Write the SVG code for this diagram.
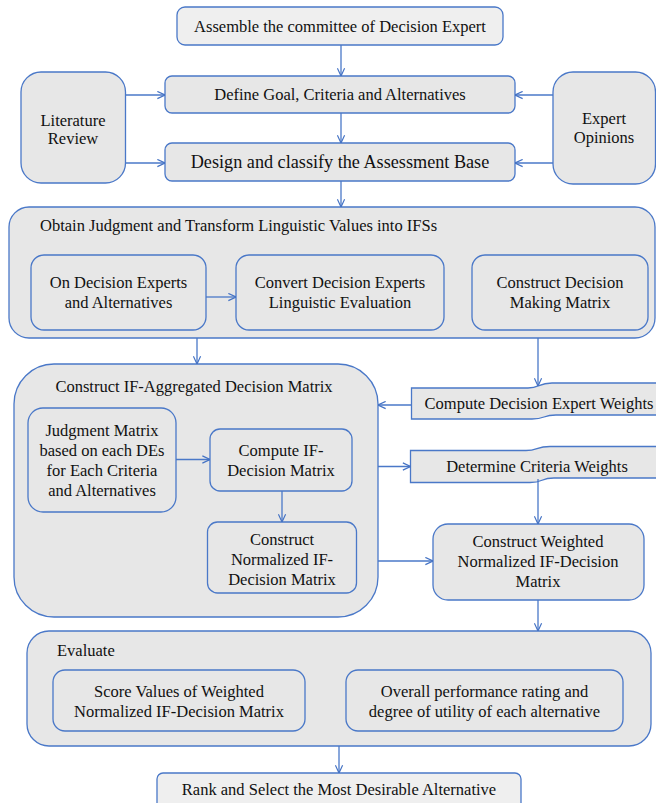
<svg xmlns="http://www.w3.org/2000/svg" width="656" height="803" viewBox="0 0 656 803">
<defs>
<marker id="ah" viewBox="0 0 10 10" refX="9.5" refY="5" markerWidth="9" markerHeight="9" markerUnits="userSpaceOnUse" orient="auto">
<path d="M1,1 L9.5,5 L1,9" fill="none" stroke="#4472c4" stroke-width="1.3"/>
</marker>
</defs>
<style>
.b{fill:#e7e7e7;stroke:#4a78c8;stroke-width:1.3}
.l{fill:#efefef;stroke:#4a78c8;stroke-width:1.3}
.a{stroke:#4a78c8;stroke-width:1.3;fill:none;marker-end:url(#ah)}
text{font-size:16.5px;fill:#111}
.m{text-anchor:middle}
.big{font-size:18.2px}
</style>
<rect width="656" height="803" fill="#ffffff"/>
<g font-family="'Liberation Serif', 'DejaVu Serif', serif">
<g id="assemble"><rect class="l" x="177" y="7" width="326" height="38" rx="8"/><text class="m" x="340" y="32">Assemble the committee of Decision Expert</text></g>
<g id="literature"><rect class="b" x="21" y="72" width="104.5" height="111" rx="20"/><text class="m" x="73" y="126">Literature</text><text class="m" x="73" y="144">Review</text></g>
<g id="define"><rect class="b" x="165" y="76" width="350" height="37" rx="7"/><text class="m" x="340" y="100">Define Goal, Criteria and Alternatives</text></g>
<g id="design"><rect class="b" x="165" y="143" width="350" height="38" rx="7"/><text class="m big" x="340" y="168">Design and classify the Assessment Base</text></g>
<g id="expert"><rect class="b" x="553" y="72" width="102.5" height="112" rx="20"/><text class="m" x="604" y="124">Expert</text><text class="m" x="604" y="143">Opinions</text></g>

<g id="obtain"><rect class="b" x="9" y="207" width="646" height="131" rx="20"/><text x="40" y="231">Obtain Judgment and Transform Linguistic Values into IFSs</text></g>
<g id="onde"><rect class="b" x="31" y="255" width="175" height="75" rx="13"/><text class="m" x="118.5" y="288">On Decision Experts</text><text class="m" x="118.5" y="308">and Alternatives</text></g>
<g id="convert"><rect class="b" x="236" y="255" width="208" height="75" rx="13"/><text class="m" x="340" y="288">Convert Decision Experts</text><text class="m" x="340" y="308">Linguistic Evaluation</text></g>
<g id="cdmm"><rect class="b" x="472" y="255" width="176" height="75" rx="13"/><text class="m" x="560" y="288">Construct Decision</text><text class="m" x="560" y="308">Making Matrix</text></g>

<g id="aggregated"><rect class="b" x="14" y="364" width="364" height="253" rx="40"/><text class="m" x="194" y="392">Construct IF-Aggregated Decision Matrix</text></g>
<g id="judgment"><rect class="b" x="28" y="408" width="148" height="104" rx="15"/><text class="m" x="102" y="436">Judgment Matrix</text><text class="m" x="102" y="456">based on each DEs</text><text class="m" x="102" y="476">for Each Criteria</text><text class="m" x="102" y="496">and Alternatives</text></g>
<g id="computeif"><rect class="b" x="210" y="429" width="142" height="62" rx="10"/><text class="m" x="281" y="456">Compute IF-</text><text class="m" x="281" y="476">Decision Matrix</text></g>
<g id="normalized"><rect class="b" x="207.5" y="522" width="149" height="71" rx="10"/><text class="m" x="282" y="545">Construct</text><text class="m" x="282" y="565">Normalized IF-</text><text class="m" x="282" y="585">Decision Matrix</text></g>

<g id="deweights"><path class="b" d="M411.5,388 L528,388 C540,388 538,383 552,383 L660,383 L660,415 L556,415 C542,415 546,419 532,419 L411.5,419 Z"/><text class="m" x="539" y="409">Compute Decision Expert Weights</text></g>
<g id="critweights"><path class="b" d="M410.5,450.5 L526,450.5 C538,450.5 536,446.5 550,446.5 L660,446.5 L660,478 L554,478 C540,478 544,482.5 530,482.5 L410.5,482.5 Z"/><text class="m" x="537" y="472">Determine Criteria Weights</text></g>
<g id="weighted"><rect class="b" x="433" y="524" width="211" height="76" rx="15"/><text class="m" x="538" y="547">Construct Weighted</text><text class="m" x="538" y="567">Normalized IF-Decision</text><text class="m" x="538" y="587">Matrix</text></g>

<g id="evaluate"><rect class="b" x="27" y="631" width="624" height="115" rx="22"/><text x="57" y="656">Evaluate</text></g>
<g id="score"><rect class="b" x="53" y="670" width="252" height="61" rx="12"/><text class="m" x="179" y="697">Score Values of Weighted</text><text class="m" x="179" y="717">Normalized IF-Decision Matrix</text></g>
<g id="overall"><rect class="b" x="346" y="670" width="277" height="61" rx="12"/><text class="m" x="484.5" y="697">Overall performance rating and</text><text class="m" x="484.5" y="717">degree of utility of each alternative</text></g>

<g id="rank"><rect class="l" x="157" y="773" width="364" height="45" rx="6"/><text class="m" x="339" y="795">Rank and Select the Most Desirable Alternative</text></g>
</g>
<g id="connectors">
<path class="a" d="M341,45 L341,76"/>
<path class="a" d="M341,113 L341,143"/>
<path class="a" d="M125.5,95 L165,95"/>
<path class="a" d="M125.5,163 L165,163"/>
<path class="a" d="M553,95 L515,95"/>
<path class="a" d="M553,163 L515,163"/>
<path class="a" d="M341,181 L341,207"/>
<path class="a" d="M206,297 L236,297"/>
<path class="a" d="M197,338 L197,364"/>
<path class="a" d="M538,338 L538,386"/>
<path class="a" d="M411.5,405 L378,405"/>
<path class="a" d="M378,466.5 L410.5,466.5"/>
<path class="a" d="M176,459.5 L210,459.5"/>
<path class="a" d="M282,491 L282,522"/>
<path class="a" d="M538,479 L538,524"/>
<path class="a" d="M378,561 L433,561"/>
<path class="a" d="M538,600 L538,631"/>
<path class="a" d="M339,746 L339,773"/>
</g>
</svg>
